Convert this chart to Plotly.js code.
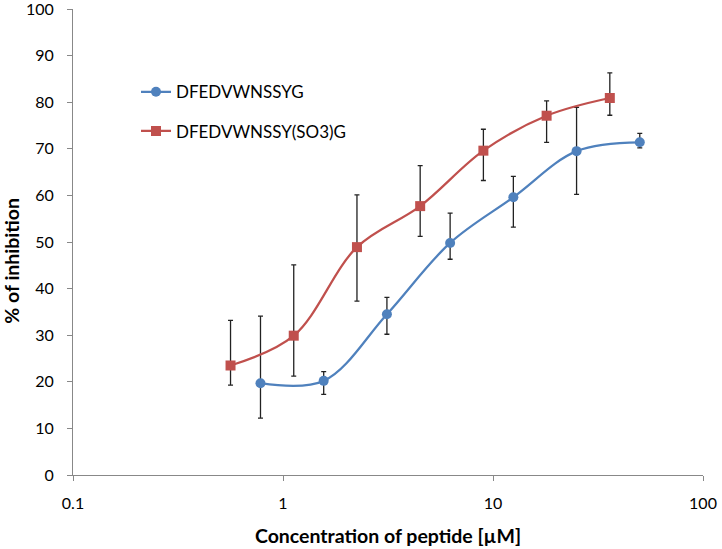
<!DOCTYPE html>
<html>
<head>
<meta charset="utf-8">
<script src="https://cdn.plot.ly/plotly-3.0.1.min.js"></script>
<style>html,body{margin:0;padding:0;background:#fff;}#chart{width:722px;height:549px;}</style>
</head>
<body>
<div id="chart"></div>
<script>
// Series 1: DFEDVWNSSYG
const seriesName1 = "DFEDVWNSSYG";
const conc1 = [0.78125, 1.5625, 3.125, 6.25, 12.5, 25, 50];
const inhib1 = [19.7, 20.2, 34.5, 49.8, 59.6, 69.5, 71.4];
const upper1 = [34.1, 22.2, 38.1, 56.2, 64.1, 78.9, 73.3];
const lower1 = [12.2, 17.3, 30.2, 46.3, 53.2, 60.2, 70.2];

// Series 2: DFEDVWNSSY(SO3)G
const seriesName2 = "DFEDVWNSSY(SO3)G";
const conc2 = [0.5625, 1.125, 2.25, 4.5, 9, 18, 36];
const inhib2 = [23.5, 29.9, 48.9, 57.7, 69.6, 77.1, 80.9];
const upper2 = [33.2, 45.1, 60.1, 66.4, 74.2, 80.3, 86.3];
const lower2 = [19.3, 21.2, 37.3, 51.2, 63.2, 71.4, 77.2];

const xTickVals = [0.1, 1, 10, 100];
const xTickText = ["0.1", "1", "10", "100"];
const yTickVals = [0, 10, 20, 30, 40, 50, 60, 70, 80, 90, 100];
const yTickText = ["0", "10", "20", "30", "40", "50", "60", "70", "80", "90", "100"];

const xTitle = "Concentration of peptide [µM]";
const yTitle = "% of inhibition";

const plus = (u, y) => u.map((v, i) => +(v - y[i]).toFixed(2));
const minus = (l, y) => l.map((v, i) => +(y[i] - v).toFixed(2));

const font = "Lato, 'Liberation Sans', sans-serif";

function trace(name, x, y, up, lo, color, symbol, group) {
  return {
    type: "scatter", mode: "lines+markers", name: name, x: x, y: y,
    legendgroup: group, cliponaxis: false,
    line: {color: color, width: 2.25, shape: "spline", smoothing: 1},
    marker: {color: color, symbol: symbol, size: 10, line: {width: 0}},
    error_y: {type: "data", symmetric: false, array: plus(up, y), arrayminus: minus(lo, y),
      color: "#222", thickness: 1.3, width: 2.5}
  };
}

const data = [
  trace(seriesName1, conc1, inhib1, upper1, lower1, "#4F81BD", "circle", "a"),
  trace(seriesName2, conc2, inhib2, upper2, lower2, "#C0504D", "square", "b")
];

const layout = {
  width: 722, height: 549,
  margin: {l: 73, r: 19, t: 9, b: 74},
  paper_bgcolor: "#fff", plot_bgcolor: "#fff",
  font: {family: font, size: 16, color: "#000"},
  showlegend: true,
  legend: {x: 0.1, y: 0.86, xanchor: "left", yanchor: "top",
    font: {family: font, size: 17, color: "#000"},
    traceorder: "grouped", tracegroupgap: 14, bgcolor: "rgba(0,0,0,0)"},
  xaxis: {
    type: "log", range: [-1, 2],
    tickmode: "array", tickvals: xTickVals, ticktext: xTickText,
    ticks: "outside", ticklen: 5, tickcolor: "#888", tickwidth: 1,
    showline: true, linecolor: "#888", linewidth: 1,
    showgrid: false, zeroline: false,
    ticklabelstandoff: 9, ticklabeloverflow: "allow",
    tickfont: {family: font, size: 16, color: "#000"},
    title: {text: xTitle, font: {family: font, size: 19.5, color: "#000", weight: "bold"}, standoff: 18}
  },
  yaxis: {
    range: [0, 100],
    tickmode: "array", tickvals: yTickVals, ticktext: yTickText,
    ticks: "outside", ticklen: 5, tickcolor: "#888", tickwidth: 1,
    showline: true, linecolor: "#888", linewidth: 1,
    showgrid: false, zeroline: false,
    ticklabelstandoff: 10, ticklabeloverflow: "allow",
    tickfont: {family: font, size: 16, color: "#000"}
  },
  annotations: [{
    text: yTitle, xref: "paper", yref: "paper", x: -0.0968, y: 0.46,
    xanchor: "center", yanchor: "middle", textangle: -90, showarrow: false,
    font: {family: font, size: 19.5, color: "#000", weight: "bold"}
  }]
};

Plotly.newPlot("chart", data, layout, {displayModeBar: false, staticPlot: true});
</script>
</body>
</html>
